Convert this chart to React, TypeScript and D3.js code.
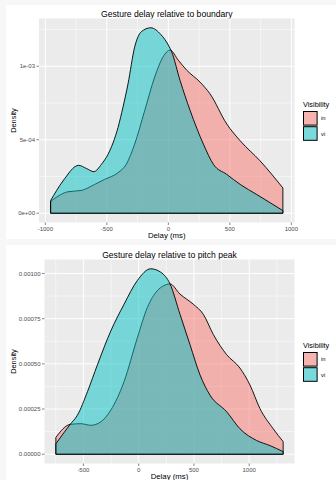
import * as d3 from "d3";

// density curves: [delay in ms, density]
const boundaryIn: [number, number][] = [
  [-957, 8.0e-5], [-897, 1.16e-4], [-816, 1.46e-4], [-708, 1.55e-4], [-599, 1.96e-4],
  [-518, 2.3e-4], [-409, 2.76e-4], [-342, 3.33e-4], [-274, 4.7e-4], [-192, 6.99e-4],
  [-111, 9.27e-4], [-43, 1.064e-3], [14, 1.11e-3], [81, 1.041e-3], [150, 9.73e-4],
  [258, 8.92e-4], [339, 8.12e-4], [475, 6.07e-4], [584, 4.93e-4], [746, 3.56e-4],
  [931, 1.72e-4],
];
const boundaryVi: [number, number][] = [
  [-957, 8.6e-5], [-857, 2.19e-4], [-729, 3.26e-4], [-667, 3.05e-4], [-605, 2.83e-4],
  [-544, 3.33e-4], [-491, 4.0e-4], [-409, 5.84e-4], [-369, 7.21e-4], [-328, 8.8e-4],
  [-274, 1.13e-3], [-220, 1.235e-3], [-143, 1.262e-3], [-60, 1.215e-3], [0, 1.144e-3],
  [27, 1.098e-3], [95, 9.04e-4], [177, 6.99e-4], [285, 4.7e-4], [366, 3.33e-4],
  [475, 2.64e-4], [584, 1.96e-4], [719, 1.27e-4], [828, 7.1e-5], [931, 1.8e-5],
];
const peakIn: [number, number][] = [
  [-749, 9.3e-5], [-620, 1.65e-4], [-523, 1.69e-4], [-433, 1.6e-4], [-343, 1.79e-4],
  [-252, 2.44e-4], [-132, 4.02e-4], [-12, 6.44e-4], [79, 8.12e-4], [169, 9.05e-4],
  [229, 9.33e-4], [284, 9.42e-4], [374, 8.86e-4], [494, 8.3e-4], [585, 7.74e-4],
  [675, 6.63e-4], [796, 5.51e-4], [916, 4.77e-4], [1007, 3.83e-4], [1097, 2.53e-4],
  [1217, 1.41e-4], [1307, 7.0e-5],
];
const peakVi: [number, number][] = [
  [-749, 5.75e-5], [-620, 1.65e-4], [-554, 2.16e-4], [-463, 3.46e-4], [-373, 4.95e-4],
  [-252, 6.82e-4], [-132, 8.3e-4], [-12, 9.61e-4], [109, 1.026e-3], [200, 1.007e-3],
  [284, 9.42e-4], [374, 7.74e-4], [464, 6.07e-4], [555, 4.39e-4], [645, 3.27e-4],
  [796, 2.35e-4], [916, 1.41e-4], [1067, 7.6e-5], [1187, 4.8e-5], [1307, 1.45e-5],
];

const groups = ["in", "vi"];
const groupColors = ["#F8766D", "#00BFC4"];

const boundaryXTicks = [-1000, -500, 0, 500, 1000];
const boundaryYTicks = [0, 0.0005, 0.001];
const boundaryYLabels = ["0e+00", "5e-04", "1e-03"];
const peakXTicks = [-500, 0, 500, 1000];
const peakYTicks = [0, 0.00025, 0.0005, 0.00075, 0.001];
const peakYLabels = ["0.00000", "0.00025", "0.00050", "0.00075", "0.00100"];

const FONT = "'Liberation Sans', Arial, Helvetica, sans-serif";

function minorBreaks(ticks: number[], domain: number[]) {
  const step = ticks[1] - ticks[0];
  const out: number[] = [];
  for (let v = ticks[0] - step / 2; v <= ticks[ticks.length - 1] + step / 2 + 1e-12; v += step) {
    if (v >= domain[0] && v <= domain[1]) out.push(v);
  }
  return out;
}

function DensityPanel({ top, left, title, series, xTicks, yTicks, yLabels }: any) {
  const right = 294.5;
  const pTop = top + 18.5;
  const pBottom = top + 222.5;

  const all: [number, number][] = series.flat();
  const [x0, x1] = d3.extent(all, (d) => d[0]) as [number, number];
  const xPad = (x1 - x0) * 0.05;
  const x = d3.scaleLinear().domain([x0 - xPad, x1 + xPad]).range([left, right]);
  const yMax = d3.max(all, (d) => d[1]) as number;
  const y = d3.scaleLinear().domain([-yMax * 0.05, yMax * 1.05]).range([pBottom, pTop]);

  const area = d3
    .area<[number, number]>()
    .x((d) => x(d[0]))
    .y0(y(0))
    .y1((d) => y(d[1]))
    .curve(d3.curveMonotoneX);

  const xMinor = minorBreaks(xTicks, x.domain());
  const yMinor = minorBreaks(yTicks, y.domain());
  const cx = (left + right) / 2;
  const cy = (pTop + pBottom) / 2;

  return (
    <g fontFamily={FONT}>
      <text x={cx} y={top + 17} textAnchor="middle" fontSize={8.6} fill="#000">
        {title}
      </text>
      <rect x={left} y={pTop} width={right - left} height={pBottom - pTop} fill="#EBEBEB" />
      {xMinor.map((v) => (
        <line key={"xm" + v} x1={x(v)} x2={x(v)} y1={pTop} y2={pBottom} stroke="#fff" strokeWidth={0.5} />
      ))}
      {yMinor.map((v) => (
        <line key={"ym" + v} x1={left} x2={right} y1={y(v)} y2={y(v)} stroke="#fff" strokeWidth={0.5} />
      ))}
      {xTicks.map((v: number) => (
        <line key={"xg" + v} x1={x(v)} x2={x(v)} y1={pTop} y2={pBottom} stroke="#fff" strokeWidth={1} />
      ))}
      {yTicks.map((v: number) => (
        <line key={"yg" + v} x1={left} x2={right} y1={y(v)} y2={y(v)} stroke="#fff" strokeWidth={1} />
      ))}
      {series.map((s: [number, number][], i: number) => (
        <path
          key={groups[i]}
          d={area(s) as string}
          fill={groupColors[i]}
          fillOpacity={0.5}
          stroke="#000"
          strokeWidth={0.9}
          strokeLinejoin="round"
        />
      ))}
      {xTicks.map((v: number) => (
        <g key={"xt" + v}>
          <line x1={x(v)} x2={x(v)} y1={pBottom} y2={pBottom + 2.5} stroke="#333" strokeWidth={0.6} />
          <text x={x(v)} y={pBottom + 8.5} textAnchor="middle" fontSize={6} fill="#4D4D4D">
            {v}
          </text>
        </g>
      ))}
      {yTicks.map((v: number, i: number) => (
        <g key={"yt" + v}>
          <line x1={left - 2.5} x2={left} y1={y(v)} y2={y(v)} stroke="#333" strokeWidth={0.6} />
          <text x={left - 4} y={y(v) + 2.1} textAnchor="end" fontSize={6} fill="#4D4D4D">
            {yLabels[i]}
          </text>
        </g>
      ))}
      <text x={cx} y={top + 238.3} textAnchor="middle" fontSize={7.8} fill="#000">
        Delay (ms)
      </text>
      <text
        transform={`translate(16,${cy}) rotate(-90)`}
        textAnchor="middle"
        fontSize={7.4}
        fill="#000"
      >
        Density
      </text>
      <text x={303} y={top + 106.8} fontSize={7.3} fill="#000">
        Visibility
      </text>
      {groups.map((g, i) => (
        <g key={"lg" + g}>
          <rect x={303} y={top + 111 + i * 15.2} width={14.6} height={14.6} fill="#F2F2F2" />
          <rect
            x={303.5}
            y={top + 111.5 + i * 15.2}
            width={13.6}
            height={13.6}
            fill={groupColors[i]}
            fillOpacity={0.5}
            stroke="#000"
            strokeWidth={1}
          />
          <text x={321} y={top + 120.4 + i * 15.2} fontSize={5.8} fill="#000">
            {g}
          </text>
        </g>
      ))}
    </g>
  );
}

export default function App() {
  return (
    <svg
      width={336}
      height={480}
      style={{ position: "absolute", left: 0, top: 0, display: "block" }}
    >
      <rect x={0} y={0} width={336} height={480} fill="#F7F7F7" />
      <rect x={6} y={5} width={330} height={234} fill="#fff" />
      <rect x={6} y={245} width={330} height={235} fill="#fff" />
      <DensityPanel
        top={0}
        left={39}
        title="Gesture delay relative to boundary"
        series={[boundaryIn, boundaryVi]}
        xTicks={boundaryXTicks}
        yTicks={boundaryYTicks}
        yLabels={boundaryYLabels}
      />
      <DensityPanel
        top={241}
        left={44.5}
        title="Gesture delay relative to pitch peak"
        series={[peakIn, peakVi]}
        xTicks={peakXTicks}
        yTicks={peakYTicks}
        yLabels={peakYLabels}
      />
    </svg>
  );
}
